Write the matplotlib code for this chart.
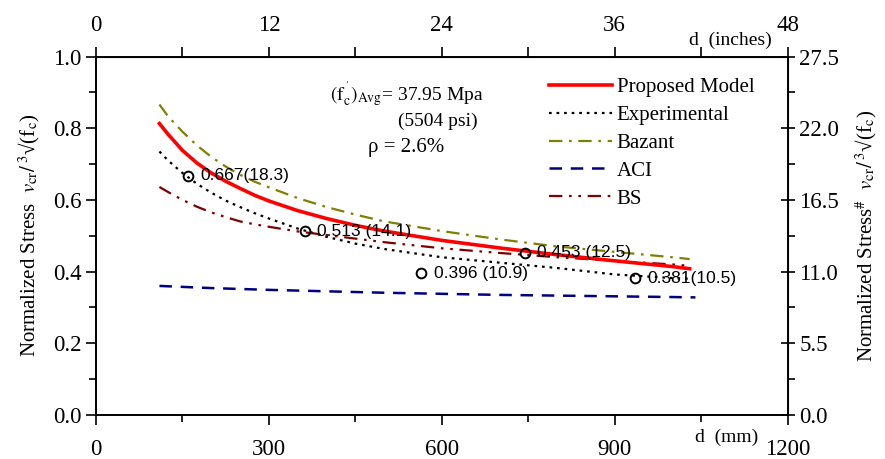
import matplotlib
matplotlib.use("Agg")
import matplotlib.pyplot as plt

plt.rcParams['font.family'] = ['Liberation Serif', 'DejaVu Serif']
plt.rcParams['mathtext.fontset'] = 'stix'

# depth d (mm) and normalized stress
d_model = [110, 125, 150, 175, 200, 225, 250, 275, 300, 350, 400, 450, 500, 600, 700, 800, 900, 1000, 1030]
proposed = [0.813, 0.783, 0.738, 0.703, 0.675, 0.652, 0.632, 0.613, 0.597, 0.570, 0.548, 0.529, 0.513,
            0.487, 0.466, 0.447, 0.430, 0.414, 0.408]
experimental = [0.735, 0.71, 0.675, 0.645, 0.62, 0.598, 0.58, 0.563, 0.548, 0.52, 0.497, 0.478, 0.463,
                0.44, 0.425, 0.41, 0.392, 0.382, 0.38]
bazant = [0.866, 0.833, 0.79, 0.752, 0.72, 0.693, 0.67, 0.651, 0.635, 0.605, 0.58, 0.559, 0.54,
          0.513, 0.49, 0.47, 0.455, 0.44, 0.435]
bs = [0.636, 0.622, 0.60, 0.581, 0.565, 0.552, 0.54, 0.532, 0.525, 0.512, 0.502, 0.492, 0.482,
      0.465, 0.452, 0.44, 0.43, 0.42, 0.416]
d_aci = [110, 200, 300, 400, 500, 600, 700, 800, 900, 1000, 1040]
aci = [0.36, 0.354, 0.349, 0.345, 0.341, 0.338, 0.335, 0.333, 0.331, 0.329, 0.328]

# test points
d_test = [160, 362, 564, 744, 935]
v_test = [0.667, 0.513, 0.396, 0.453, 0.381]
test_labels = ['0.667(18.3)', '0.513 (14.1)', '0.396 (10.9)', '0.453 (12.5)', '0.381(10.5)']

fig = plt.figure(figsize=(8.85, 4.59), dpi=100)
ax = fig.add_axes([0.1085, 0.0959, 0.7815, 0.781])

ax.plot(d_model, proposed, color='#ff0000', lw=2.6, label='Proposed Model', zorder=5)
ax.plot(d_model, experimental, color='black', lw=1.6, ls=(0, (1.2, 2.2)), label='Experimental')
ax.plot(d_model, bazant, color='#808000', lw=1.6, ls=(0, (6, 3, 1.2, 3)), label='Bazant')
ax.plot(d_aci, aci, color='#000080', lw=1.8, ls=(0, (5, 3.5)), label='ACI')
ax.plot(d_model, bs, color='#800000', lw=1.6, ls=(0, (6, 3, 1.2, 3, 1.2, 3)), label='BS')

ax.plot(d_test, v_test, 'o', ms=7, mfc='none', mec='black', mew=1.4, zorder=6)
for x, y, s in zip(d_test, v_test, test_labels):
    ax.annotate(s, (x, y), xytext=(9, 0), textcoords='offset points',
                va='center', fontsize=12.5, family='Liberation Sans', zorder=7)

ax.set_xlim(0, 1200)
ax.set_ylim(0, 1.0)
ax.set_xticks([0, 300, 600, 900, 1200])
ax.set_xticks([150, 450, 750, 1050], minor=True)
ax.set_yticks([0, 0.2, 0.4, 0.6, 0.8, 1.0])
ax.set_yticks([0.1, 0.3, 0.5, 0.7, 0.9], minor=True)
ax.yaxis.set_major_formatter(matplotlib.ticker.FormatStrFormatter('%.1f'))
ax.tick_params(which='both', labelsize=16.5, width=1.2, direction='out')
ax.tick_params(which='major', length=7)
ax.tick_params(which='minor', length=5)
ax.tick_params(axis='x', pad=10)
for sp in ax.spines.values():
    sp.set_linewidth(1.4)

top = ax.secondary_xaxis('top', functions=(lambda x: x / 25.0, lambda x: x * 25.0))
top.set_xticks([0, 12, 24, 36, 48])
top.set_xticks([6, 18, 30, 42], minor=True)
top.tick_params(which='both', labelsize=16.5, width=1.2, direction='out', pad=8)
top.tick_params(which='major', length=7)
top.tick_params(which='minor', length=7)

right = ax.secondary_yaxis('right', functions=(lambda y: y * 27.5, lambda y: y / 27.5))
right.set_yticks([0, 5.5, 11.0, 16.5, 22.0, 27.5])
right.set_yticks([2.75, 8.25, 13.75, 19.25, 24.75], minor=True)
right.yaxis.set_major_formatter(matplotlib.ticker.FormatStrFormatter('%.1f'))
right.tick_params(which='both', labelsize=16.5, width=1.2)
right.tick_params(which='major', length=10, direction='inout')
right.tick_params(which='minor', length=5, direction='out')

ax.set_ylabel(r'Normalized Stress  $v_{\rm cr}/\,^{3}$√(f$_{\rm c}$)', fontsize=15, labelpad=8)
right.set_ylabel(r'Normalized Stress$^{\#}$  $v_{\rm cr}/\,^{3}$√(f$_{\rm c}$)', fontsize=15, labelpad=10)

fig.text(730 / 885, 1 - 40 / 459, 'd  (inches)', fontsize=14, ha='center', va='center')
fig.text(727 / 885, 1 - 437 / 459, 'd  (mm)', fontsize=14, ha='center', va='center')

ax.text(0.338, 0.895, r"$(\rm f_c^{\,'})_{\rm Avg}$= 37.95 Mpa", transform=ax.transAxes,
        fontsize=14, va='center')
ax.text(0.437, 0.82, '(5504 psi)', transform=ax.transAxes, fontsize=14, va='center')
ax.text(0.393, 0.745, 'ρ = 2.6%', transform=ax.transAxes, fontsize=15, va='center')

ax.legend(loc='upper left', bbox_to_anchor=(0.643, 0.965), frameon=False, fontsize=15,
          handlelength=3.0, handletextpad=0.25, labelspacing=0.4, borderaxespad=0)

fig.savefig('out.png', dpi=100)
